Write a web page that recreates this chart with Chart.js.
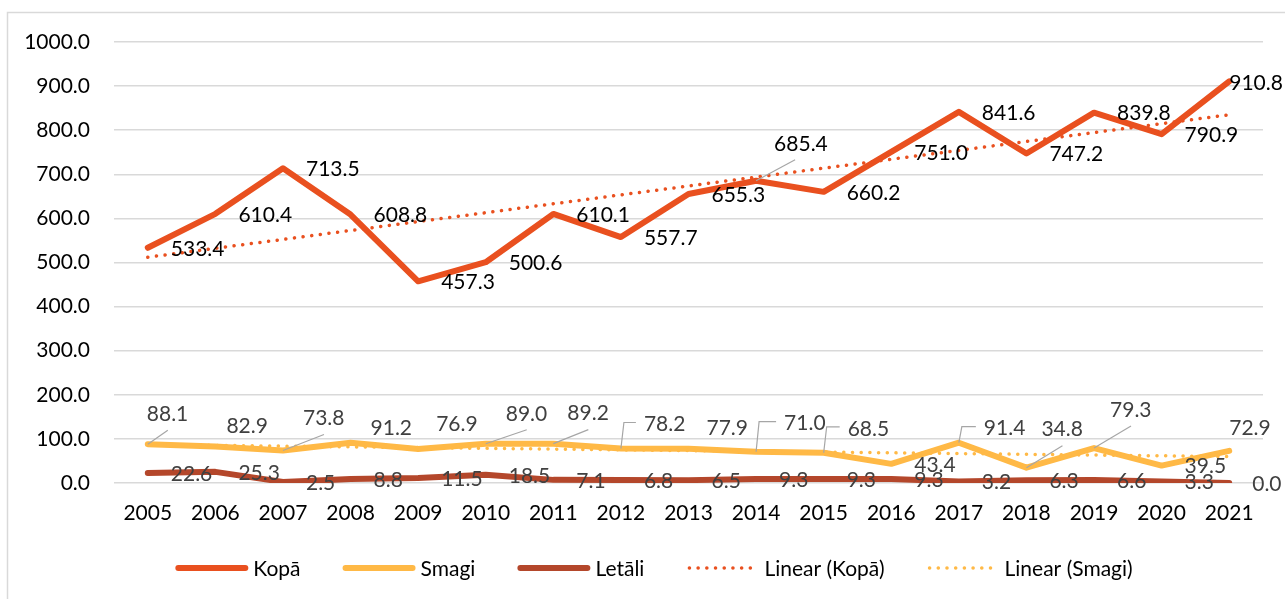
<!DOCTYPE html>
<html>
<head>
<meta charset="utf-8">
<script src="https://cdn.jsdelivr.net/npm/chart.js@4.4.1/dist/chart.umd.min.js"></script>
<style>
  html, body { margin: 0; background: #fff; }
  #wrap { width: 1285px; height: 599px; position: relative; }
</style>
</head>
<body>
<div id="wrap"><canvas id="myChart"></canvas></div>
<script>
// Step 1: data
const years = ['2005', '2006', '2007', '2008', '2009', '2010', '2011', '2012', '2013',
               '2014', '2015', '2016', '2017', '2018', '2019', '2020', '2021'];
const kopa = [533.4, 610.4, 713.5, 608.8, 457.3, 500.6, 610.1, 557.7, 655.3,
              685.4, 660.2, 751.0, 841.6, 747.2, 839.8, 790.9, 910.8];
const smagi = [88.1, 82.9, 73.8, 91.2, 76.9, 89.0, 89.2, 78.2, 77.9,
               71.0, 68.5, 43.4, 91.4, 34.8, 79.3, 39.5, 72.9];
const letali = [22.6, 25.3, 2.5, 8.8, 11.5, 18.5, 7.1, 6.8, 6.5,
                9.3, 9.3, 9.3, 3.2, 6.3, 6.6, 3.3, 0.0];
// trendline values at first and last year
const kopaTrend = [512, 835];
const smagiTrend = [87, 60];
const yMin = 0, yMax = 1000, yStep = 100;

const FONT = 'Lato, "Open Sans", sans-serif';
const FONT_SIZE = 21;

// trend line only has its two end points, the rest is spanned
function trendSeries(ends) {
    return years.map((y, i) => i === 0 ? ends[0] : (i === years.length - 1 ? ends[1] : null));
}

// where Excel put some of the data labels (offset from the point), default is "right"
const labelPlacement = {
    0: { 9: { dx: 18, dy: -38, leader: 'line' }, 16: { dx: 0, dy: 1 } },
    1: {
        0: { dx: -1, dy: -31, leader: 'line' },
        1: { dx: 11, dy: -21 },
        2: { dx: 20, dy: -33, leader: 'line' },
        3: { dx: 20, dy: -16 },
        4: { dx: 18, dy: -26 },
        5: { dx: 20, dy: -31, leader: 'line' },
        6: { dx: 14, dy: -31, leader: 'line' },
        7: { dx: 23, dy: -25, leader: 'elbow' },
        8: { dx: 18, dy: -21 },
        9: { dx: 28, dy: -29, leader: 'elbow' },
        10: { dx: 24, dy: -25, leader: 'elbow' },
        12: { dx: 25, dy: -15, leader: 'elbow' },
        13: { dx: 15, dy: -39, leader: 'line' },
        14: { dx: 16, dy: -39, leader: 'line' },
        16: { dx: 0, dy: -24 }
    },
    2: {}
};
const labelColors = ['#000000', '#404040', '#404040'];

const dataLabels = {
    id: 'dataLabels',
    afterDatasetsDraw(chart) {
        const ctx = chart.ctx;
        ctx.save();
        ctx.font = FONT_SIZE + 'px ' + FONT;
        ctx.textBaseline = 'middle';
        ctx.textAlign = 'left';
        [0, 1, 2].forEach(di => {
            const meta = chart.getDatasetMeta(di);
            const values = chart.data.datasets[di].data;
            meta.data.forEach((pt, i) => {
                const p = labelPlacement[di][i] || { dx: 23, dy: 0 };
                const lx = pt.x + p.dx;
                const cy = pt.y + p.dy;
                if (p.leader) {
                    ctx.strokeStyle = '#a6a6a6';
                    ctx.lineWidth = 1.2;
                    ctx.beginPath();
                    ctx.moveTo(pt.x, pt.y);
                    if (p.leader === 'line') {
                        ctx.lineTo(lx + 21, cy + 17);
                    } else {
                        ctx.lineTo(pt.x + 3, cy - 1);
                        ctx.lineTo(lx - 8, cy - 1);
                    }
                    ctx.stroke();
                }
                ctx.fillStyle = labelColors[di];
                ctx.fillText(values[i].toFixed(1), lx, cy + 1);
            });
        });
        ctx.restore();
    }
};

// outer frame and legend drawn like the Excel one
const frameAndLegend = {
    id: 'frameAndLegend',
    beforeDraw(chart) {
        const ctx = chart.ctx;
        ctx.save();
        ctx.strokeStyle = '#d9d9d9';
        ctx.lineWidth = 1.5;
        ctx.strokeRect(7.5, 12.5, chart.width + 20, chart.height + 20);
        ctx.restore();
    },
    afterDraw(chart) {
        const ctx = chart.ctx;
        const sets = chart.data.datasets;
        const sample = 73, gap = 5, spacing = 42, y = 568;
        ctx.save();
        ctx.font = FONT_SIZE + 'px ' + FONT;
        ctx.textBaseline = 'middle';
        const widths = sets.map(d => ctx.measureText(d.label).width);
        let total = 0;
        widths.forEach(w => total += sample + gap + w);
        total += spacing * (sets.length - 1);
        let x = 654 - total / 2;
        sets.forEach((d, i) => {
            ctx.strokeStyle = d.borderColor;
            ctx.lineCap = 'round';
            if (d.borderDash) {
                ctx.lineWidth = 3.5;
                ctx.setLineDash([0.1, 8.6]);
            } else {
                ctx.lineWidth = 6;
                ctx.setLineDash([]);
            }
            ctx.beginPath();
            ctx.moveTo(x + 3, y);
            ctx.lineTo(x + sample - 3, y);
            ctx.stroke();
            ctx.fillStyle = '#000';
            ctx.fillText(d.label, x + sample + gap, y + 1);
            x += sample + gap + widths[i] + spacing;
        });
        ctx.restore();
    }
};

// Step 2: build the chart
function createChart() {
    const ctx = document.getElementById('myChart').getContext('2d');
    new Chart(ctx, {
        type: 'line',
        data: {
            labels: years,
            datasets: [{
                label: 'Kopā',
                data: kopa,
                borderColor: '#e9501f',
                borderWidth: 6
            }, {
                label: 'Smagi',
                data: smagi,
                borderColor: '#ffb946',
                borderWidth: 6
            }, {
                label: 'Letāli',
                data: letali,
                borderColor: '#b4472b',
                borderWidth: 6
            }, {
                label: 'Linear (Kopā)',
                data: trendSeries(kopaTrend),
                borderColor: '#e9501f',
                borderWidth: 3.5,
                borderDash: [0.1, 8.6],
                borderCapStyle: 'round',
                spanGaps: true,
                order: -1
            }, {
                label: 'Linear (Smagi)',
                data: trendSeries(smagiTrend),
                borderColor: '#ffb946',
                borderWidth: 3.5,
                borderDash: [0.1, 8.6],
                borderCapStyle: 'round',
                spanGaps: true,
                order: -1
            }]
        },
        options: {
            responsive: true,
            maintainAspectRatio: false,
            animation: false,
            layout: { padding: { top: 42, right: 22, left: 0, bottom: 0 } },
            elements: {
                point: { radius: 0, hoverRadius: 0 },
                line: { tension: 0, borderJoinStyle: 'round', borderCapStyle: 'round' }
            },
            plugins: {
                legend: { display: false },
                tooltip: { enabled: false }
            },
            scales: {
                x: {
                    offset: true,
                    grid: { display: false, drawTicks: false },
                    border: { display: false },
                    ticks: { color: '#000', font: { family: FONT, size: FONT_SIZE }, padding: 18, maxRotation: 0 },
                    afterFit(scale) { scale.height = 116; }
                },
                y: {
                    min: yMin,
                    max: yMax,
                    grid: { color: '#d9d9d9', lineWidth: 1.5, drawTicks: false },
                    border: { display: false },
                    ticks: {
                        stepSize: yStep,
                        color: '#000',
                        padding: 24,
                        font: { family: FONT, size: FONT_SIZE },
                        callback: v => v.toFixed(1)
                    },
                    afterFit(scale) { scale.width = 114; }
                }
            }
        },
        plugins: [dataLabels, frameAndLegend]
    });
}

createChart();
</script>
</body>
</html>
